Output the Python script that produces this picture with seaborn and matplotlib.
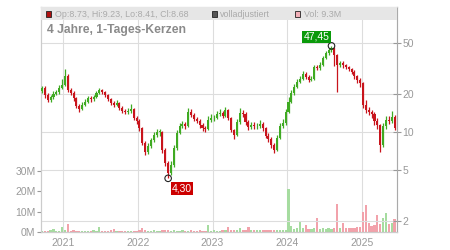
import numpy as np
import pandas as pd
import seaborn as sns
import matplotlib
matplotlib.use("Agg")
import matplotlib.pyplot as plt
from matplotlib.patches import Rectangle

##############################################################################
# data (2-week candles, log price, daily-ish volume in M)

dates = pd.date_range("2020-09-20", periods=124, freq="14D")

close = [22.1, 19.5, 17.8, 18.8, 19.8, 20.6, 22.1, 23.3, 27.5, 21.3,
         20.2, 18.5, 16.0, 15.1, 16.3, 17.2, 18.5, 18.1, 18.8, 20.2,
         21.3, 20.6, 19.5, 18.1, 16.9, 16.3, 16.9, 15.4, 14.6, 14.3,
         14.6, 15.1, 12.8, 12.2, 10.7, 8.2, 6.9, 7.7, 8.6, 9.4,
         10.0, 10.0, 7.2, 5.7, 4.7, 5.5, 7.4, 9.8, 11.1, 11.5,
         11.1, 14.3, 13.6, 12.6, 12.2, 11.3, 10.7, 10.5, 12.4, 12.8,
         12.8, 13.8, 14.1, 13.3, 14.8, 12.8, 10.3, 9.4, 11.9, 14.1,
         13.8, 11.9, 10.9, 11.3, 11.1, 11.1, 11.5, 10.7, 9.3, 8.8,
         7.9, 7.2, 8.9, 11.1, 11.7, 14.3, 17.2, 20.2, 22.5, 24.7,
         26.0, 28.5, 27.0, 25.6, 26.0, 32.4, 31.8, 33.6, 38.1, 41.7,
         44.0, 45.7, 40.2, 33.6, 34.8, 33.6, 32.4, 31.2, 29.6, 27.5,
         25.6, 24.2, 16.3, 14.8, 14.3, 13.8, 12.2, 11.3, 7.9, 11.1,
         12.4, 12.2, 13.1, 10.7]
first_open = 21.0

high = [23.0, 22.8, 20.2, 19.6, 20.8, 21.5, 23.5, 25.8, 31.0, 28.5,
        22.0, 20.8, 18.9, 16.5, 17.0, 18.0, 19.2, 19.0, 19.5, 21.0,
        22.0, 21.8, 21.0, 19.9, 18.5, 17.6, 17.8, 17.2, 15.9, 15.2,
        15.5, 16.6, 15.5, 13.4, 12.6, 11.0, 8.5, 8.1, 9.0, 9.9,
        10.6, 10.5, 10.2, 7.4, 5.9, 5.9, 7.8, 10.3, 11.8, 12.2,
        12.0, 15.5, 15.0, 14.0, 13.1, 12.6, 11.8, 11.2, 13.3, 13.8,
        13.5, 14.6, 15.0, 14.6, 15.6, 15.2, 13.1, 10.6, 12.5, 15.3,
        14.8, 14.2, 12.3, 12.0, 11.9, 11.8, 12.3, 11.9, 11.0, 9.7,
        9.1, 8.2, 9.4, 11.7, 12.6, 15.2, 18.8, 21.5, 23.8, 26.0,
        27.6, 30.2, 29.8, 27.8, 27.4, 33.6, 33.8, 35.2, 39.6, 43.2,
        45.6, 47.45, 46.5, 41.0, 36.0, 35.8, 34.4, 33.2, 32.0, 30.4,
        28.2, 26.4, 24.6, 17.8, 15.8, 14.9, 14.2, 12.8, 11.6, 11.8,
        13.4, 13.2, 14.6, 13.5]

low = [20.3, 18.6, 17.0, 17.2, 18.2, 19.3, 20.0, 21.6, 23.0, 20.6,
       19.4, 17.6, 15.4, 14.4, 14.8, 15.9, 16.8, 17.3, 17.6, 18.4,
       19.8, 19.9, 18.9, 17.5, 16.3, 15.7, 15.9, 14.9, 14.0, 13.7,
       13.8, 14.0, 12.3, 11.6, 10.1, 7.8, 6.6, 6.7, 7.4, 8.3,
       9.1, 9.3, 6.8, 5.4, 4.30, 4.6, 5.3, 7.2, 9.6, 10.8,
       10.6, 10.9, 13.1, 12.1, 11.7, 10.8, 10.2, 10.0, 10.3, 12.0,
       12.2, 12.5, 13.3, 12.8, 13.0, 12.3, 9.9, 8.8, 9.2, 11.6,
       13.1, 11.4, 10.4, 10.5, 10.6, 10.5, 10.8, 10.2, 8.9, 8.3,
       7.5, 6.8, 7.0, 8.7, 10.8, 11.4, 14.0, 16.8, 19.6, 22.0,
       24.0, 25.5, 26.2, 24.6, 24.9, 25.6, 30.5, 30.8, 33.0, 37.2,
       40.0, 42.5, 33.0, 20.5, 32.6, 32.0, 31.0, 29.9, 28.3, 26.0,
       24.3, 22.6, 15.5, 14.0, 13.5, 12.9, 11.4, 10.6, 6.9, 7.6,
       10.6, 11.5, 11.8, 10.3]

volume_m = [0.6, 0.7, 0.5, 0.8, 1.3, 0.6, 0.7, 2.3, 1.0, 3.8,
            0.6, 0.8, 0.7, 0.6, 0.7, 0.5, 0.6, 0.7, 0.8, 0.6,
            2.3, 0.6, 0.7, 0.6, 0.8, 1.5, 0.7, 0.6, 0.5, 0.7,
            0.6, 0.6, 0.7, 0.5, 1.0, 1.8, 0.8, 0.7, 0.6, 0.8,
            0.7, 0.6, 0.9, 0.8, 1.0, 0.7, 0.8, 0.6, 0.7, 0.8,
            0.6, 0.7, 0.9, 0.6, 0.7, 0.8, 0.6, 0.7, 3.3, 0.7,
            0.8, 0.6, 0.7, 0.8, 1.0, 2.5, 0.8, 1.0, 1.2, 2.0,
            0.9, 1.0, 2.5, 1.0, 0.8, 0.9, 1.1, 0.8, 1.0, 1.2,
            0.9, 1.1, 1.0, 0.9, 1.0, 1.2, 21.0, 3.0, 1.5, 1.8,
            5.0, 1.8, 3.6, 1.5, 1.4, 1.8, 7.0, 1.5, 2.0, 1.6,
            1.8, 1.5, 2.0, 14.0, 2.0, 4.5, 2.0, 1.8, 2.2, 2.0,
            2.5, 2.5, 10.0, 13.5, 4.5, 3.0, 3.5, 8.5, 4.0, 7.0,
            9.5, 4.0, 4.5, 6.5]

peak_idx, peak_val = 101, 47.45
low_idx, low_val = 44, 4.30

price_ticks = [2, 5, 10, 20, 50]
vol_ticks = [0, 10, 20, 30]
years = [2021, 2022, 2023, 2024, 2025]

##############################################################################

sns.set_theme(style="white")
plt.rcParams['font.family'] = ['Liberation Sans', 'DejaVu Sans']

close = np.array(close)
opens = np.concatenate(([first_open], close[:-1]))
up = close >= opens

c_up, c_dn = "#3faa22", "#c8141c"
v_up, v_dn = "#a6dca0", "#f2a2ab"
grid_c = "#dddddd"
txt_c = "#999999"

fig = plt.figure(figsize=(4.5, 2.5), dpi=100)
ax = fig.add_axes([41 / 450, 18 / 250, 356 / 450, 225 / 250])
ax2 = ax.twinx()

# volume
vol = np.array(volume_m) * 1e6
ax.bar(dates, vol, width=11, color=np.where(up, v_up, v_dn), linewidth=0)
ax.set_ylim(0, 110.7e6)
ax.set_yticks([v * 1e6 for v in vol_ticks])
ax.set_yticklabels([f"{v}M" for v in vol_ticks])
ax.set_xlim(pd.Timestamp("2020-09-15"), pd.Timestamp("2025-06-20"))
ax.set_xticks([pd.Timestamp(f"{y}-01-01") for y in years])
ax.set_xticklabels([str(y) for y in years])
ax.grid(axis="x", color=grid_c, lw=0.8)
ax.set_axisbelow(True)

# candles
cols = np.where(up, c_up, c_dn)
ax2.vlines(dates, low, high, colors=cols, lw=0.9, zorder=3)
ax2.bar(dates, np.maximum(np.abs(close - opens), 0.05), bottom=np.minimum(opens, close),
        width=10, color=cols, linewidth=0, zorder=3)
ax2.set_yscale("log")
ax2.set_ylim(1.625, 96)
ax2.set_yticks(price_ticks)
ax2.set_yticklabels([str(p) for p in price_ticks])
ax2.minorticks_off()
ax2.grid(axis="y", color=grid_c, lw=0.8, zorder=0)

for a in (ax, ax2):
    a.tick_params(labelsize=7.5, colors=txt_c, length=3, width=0.8)
    for s in a.spines.values():
        s.set_color("#cccccc")
        s.set_linewidth(0.8)
ax2.spines["right"].set_color("#aaaaaa")
ax.spines["bottom"].set_color("#aaaaaa")
ax2.tick_params(axis="y", direction="inout", length=6, pad=1)
ax.tick_params(axis="y", pad=1)
ax.tick_params(axis="x", pad=1.5)

# extreme markers
sns.scatterplot(x=[dates[peak_idx], dates[low_idx]], y=[peak_val, low_val], ax=ax2,
                marker="o", s=22, facecolor="none", edgecolor="#222222", linewidth=0.8, zorder=5)
ax2.annotate("47,45", (dates[peak_idx], peak_val), xytext=(-15, 9), textcoords="offset pixels",
             ha="center", va="center", color="white", fontsize=7.5,
             bbox=dict(boxstyle="square,pad=0.12", fc="#0a9a0a", ec="none"), zorder=6)
ax2.annotate("4,30", (dates[low_idx], low_val), xytext=(14, -10), textcoords="offset pixels",
             ha="center", va="center", color="white", fontsize=7.5,
             bbox=dict(boxstyle="square,pad=0.12", fc="#cc0000", ec="none"), zorder=6)

# header strip
ax2.add_patch(Rectangle((0, 0.944), 1, 0.056, transform=ax2.transAxes, fc="#e6e6e6", ec="none", zorder=4))
hy = 0.968
for xs, fc, label in [(0.014, "#b01010", "Op:8.73, Hi:9.23, Lo:8.41, Cl:8.68"),
                      (0.479, "#555555", "volladjustiert"),
                      (0.713, "#f2b0b8", "Vol: 9.3M")]:
    ax2.add_patch(Rectangle((xs, hy - 0.011), 0.015, 0.024, transform=ax2.transAxes,
                            fc=fc, ec="#222222", lw=0.6, zorder=5))
    ax2.text(xs + 0.025, hy, label, transform=ax2.transAxes, fontsize=6.4, color="#aaaaaa",
             va="center", ha="left", zorder=5)
ax2.text(0.017, 0.898, "4 Jahre, 1-Tages-Kerzen", transform=ax2.transAxes, fontsize=8.7,
         fontweight="bold", color="#8a8a8a", va="center", ha="left", zorder=5)

fig.savefig("out.png", dpi=100)
